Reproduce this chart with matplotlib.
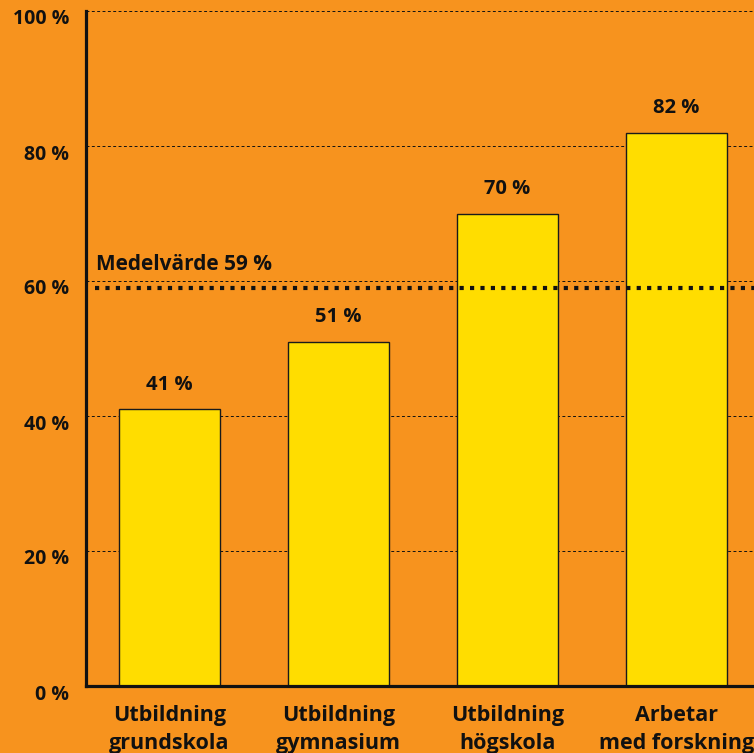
import matplotlib
matplotlib.use("Agg")
import matplotlib.pyplot as plt
import matplotlib.transforms as mtransforms

categories = ["Utbildning\ngrundskola", "Utbildning\ngymnasium", "Utbildning\nhögskola", "Arbetar\nmed forskning"]
values = [41, 51, 70, 82]
value_labels = ["41 %", "51 %", "70 %", "82 %"]
mean_value = 59
mean_label = "Medelvärde 59 %"
yticks = [0, 20, 40, 60, 80, 100]
ytick_labels = ["0 %", "20 %", "40 %", "60 %", "80 %", "100 %"]

bg = "#F7931E"
bar_color = "#FFDD00"
plt.rcParams['font.family'] = ['Open Sans', 'DejaVu Sans']
plt.rcParams['font.weight'] = 'bold'

fig = plt.figure(figsize=(7.54, 7.53), dpi=100, facecolor=bg)
ax = fig.add_axes([86/754, 67/753, 1 - 86/754, (686 - 11)/753])
ax.set_facecolor(bg)

x = list(range(len(categories)))
ax.bar(x, values, width=0.598, color=bar_color, edgecolor="#1a1a1a", linewidth=1.0, zorder=3)

for xi, v, lab in zip(x, values, value_labels):
    ax.text(xi, v + 3.6, lab, ha="center", va="center", fontsize=14.5, fontweight="bold", color="#111111", zorder=4)

ax.set_xlim(-0.494, 3.459)
ax.set_ylim(0, 100)

ax.set_yticks(yticks)
ax.set_yticklabels(ytick_labels, fontsize=14, fontweight="bold", color="#111111")
ax.tick_params(axis="y", length=0, pad=12)
offset = mtransforms.ScaledTranslation(0, -6/100, fig.dpi_scale_trans)
for t in ax.get_yticklabels():
    t.set_transform(t.get_transform() + offset)

ax.set_xticks(x)
ax.set_xticklabels(categories, fontsize=15.5, fontweight="bold", color="#111111", linespacing=1.4)
ax.tick_params(axis="x", length=0, pad=14)

for yv in yticks[1:]:
    ax.axhline(yv, color="#111111", linewidth=0.7, linestyle=(0, (3, 2.5)), zorder=1)

ax.plot([-0.44, 3.459], [mean_value, mean_value], color="#111111", linewidth=3.0,
        linestyle=(0, (1, 1.5)), dash_capstyle="butt", zorder=5)
ax.text(-0.435, 62.4, mean_label, ha="left", va="center", fontsize=15, fontweight="bold", color="#111111", zorder=5)

for s in ["top", "right"]:
    ax.spines[s].set_visible(False)
for s in ["left", "bottom"]:
    ax.spines[s].set_linewidth(2.3)
    ax.spines[s].set_color("#111111")
    ax.spines[s].set_zorder(6)

fig.savefig("out.png", dpi=100, facecolor=bg)
